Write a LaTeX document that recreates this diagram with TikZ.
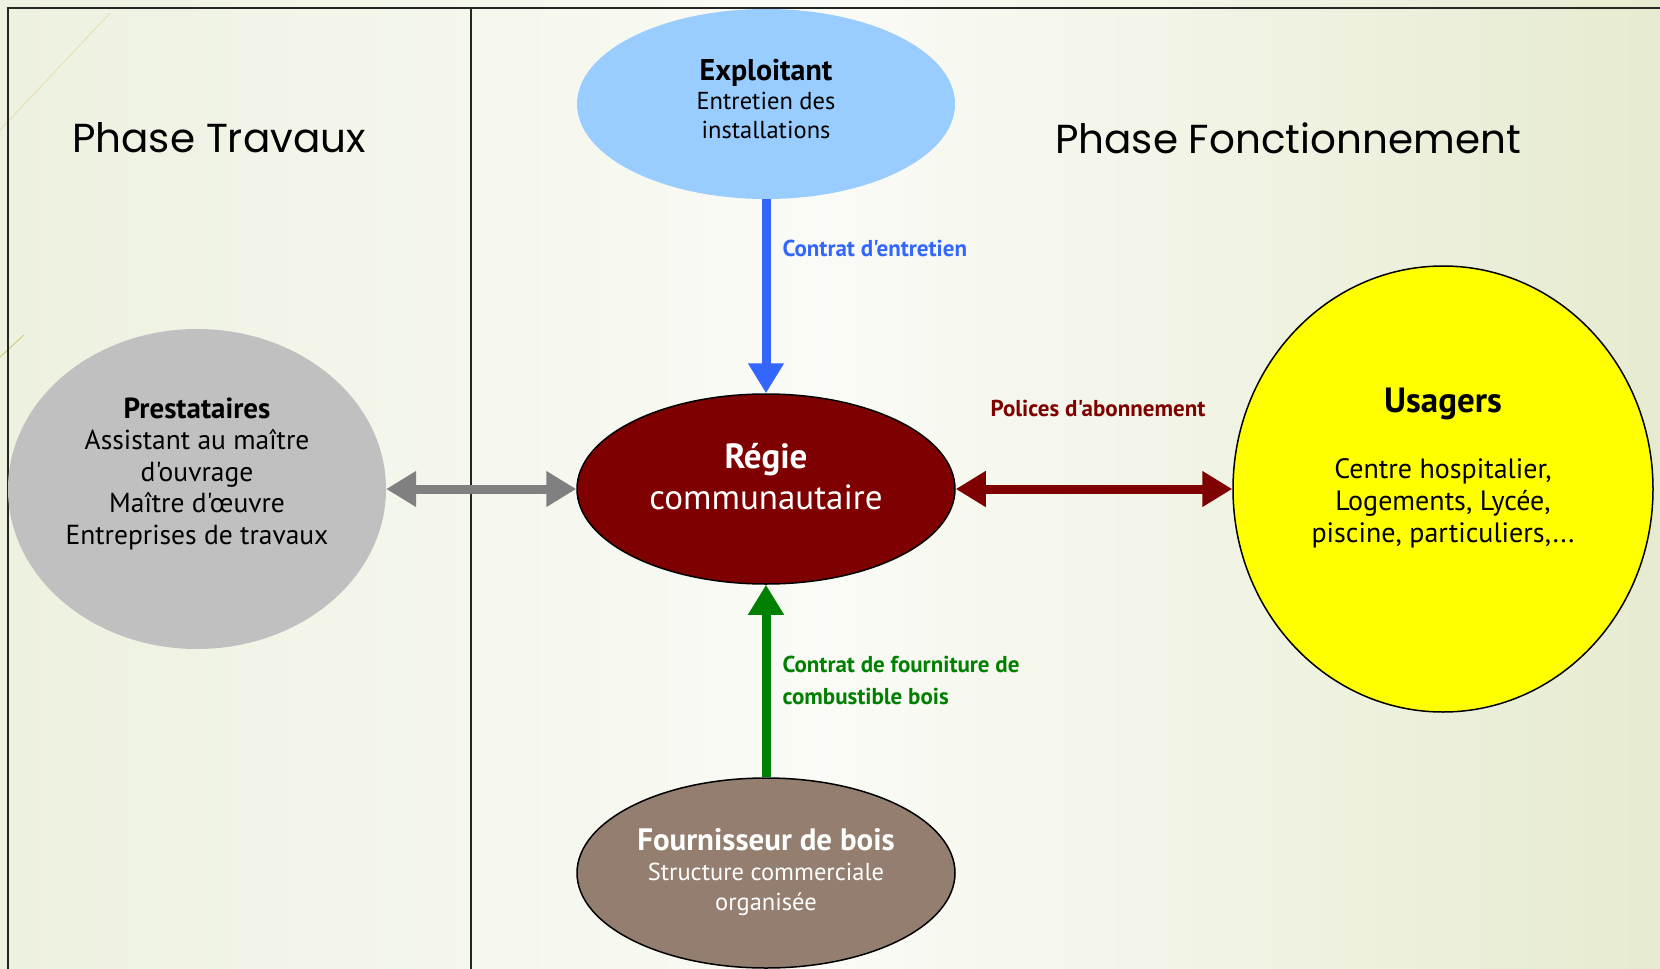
\documentclass[tikz,border=0pt]{standalone}
\usepackage{fontspec}
\setmainfont{PT Sans}[Ligatures=TeXOff]
\newfontfamily\titrefont{Poppins}
\usetikzlibrary{shapes.geometric,arrows.meta,positioning}

\definecolor{fondg}{HTML}{EDF1DF}
\definecolor{fondm}{HTML}{FAFBF6}
\definecolor{fondd}{HTML}{E6EBD0}
\definecolor{bleu}{HTML}{3366FF}
\definecolor{ciel}{HTML}{99CCFF}
\definecolor{rouge}{HTML}{7F0000}
\definecolor{vert}{HTML}{008000}
\definecolor{gris}{HTML}{808080}
\definecolor{argent}{HTML}{C0C0C0}
\definecolor{bois}{HTML}{937E6F}
\definecolor{jaune}{HTML}{FFFF00}
\definecolor{trait}{HTML}{262626}

\tikzset{
  bulle/.style={ellipse, inner sep=0pt, minimum width=378pt, minimum height=190pt, align=center},
  titre/.style={font=\titrefont\fontsize{40.5}{50}\selectfont},
  etiquette/.style={font=\fontsize{23}{32}\selectfont\bfseries, align=left},
  pointe/.tip={Triangle[length=30pt,width=34pt]},
  fleche/.style={line width=9pt, -pointe},
  doublefleche/.style={line width=9pt, pointe-pointe},
}

\begin{document}
\begin{tikzpicture}[x=1pt,y=-1pt]

\useasboundingbox (0,0) rectangle (1660,969);
\shade[left color=fondg, right color=fondd, middle color=fondm] (0,0) rectangle (1660,969);
\draw[olive!25, line width=0.8pt] (0,130) -- (110,13);
\draw[olive!45, line width=0.8pt] (0,357) -- (24,335);

\draw[trait, line width=2.5pt] (1660,8) -- (8,8) -- (8,969);
\draw[trait, line width=2pt] (471,8) -- (471,969);

\node[titre] (travaux) at (219,138) {Phase Travaux};
\node[titre] (fonct) at (1288,138) {Phase Fonctionnement};

\node[bulle, fill=rouge, draw=black, line width=1.5pt, text=white,
      font=\fontsize{35}{41}\selectfont] (regie) at (766,489)
      {\textbf{Régie}\\communautaire\\[-15pt]\mbox{}};
\node[bulle, fill=ciel, above of=regie, node distance=385pt,
      font=\fontsize{24.5}{29}\selectfont] (exploitant)
      {{\fontsize{30}{34}\selectfont\bfseries Exploitant}\\Entretien des\\installations\\[-18pt]\mbox{}};
\node[bulle, fill=bois, draw=black, line width=1.5pt, text=white, below of=regie, node distance=384pt,
      font=\fontsize{24.5}{30}\selectfont] (fournisseur)
      {{\fontsize{31}{34}\selectfont\bfseries Fournisseur de bois}\\Structure commerciale\\organisée\\[-22pt]\mbox{}};
\node[bulle, fill=argent, minimum height=320pt, left of=regie, node distance=569pt,
      font=\fontsize{27.5}{31.5}\selectfont] (prestataires)
      {{\fontsize{29}{31.5}\selectfont\bfseries Prestataires}\\Assistant au maître\\d'ouvrage\\Maître d'œuvre\\Entreprises de travaux\\[5pt]\mbox{}};
\node[bulle, fill=jaune, draw=black, line width=1.5pt, minimum width=420pt, minimum height=446pt,
      right of=regie, node distance=677pt,
      font=\fontsize{28}{32}\selectfont] (usagers)
      {{\fontsize{35}{38}\selectfont\bfseries Usagers}\\[34pt]Centre hospitalier,\\Logements, Lycée,\\piscine, particuliers,...\\[16pt]\mbox{}};

\node[etiquette, text=bleu, anchor=west] (contrat1) at (779,248) {Contrat d'entretien};
\node[etiquette, text=rouge] (polices) at (1098,408) {Polices d'abonnement};
\node[etiquette, text=vert, anchor=west] (contrat2) at (779,680) {Contrat de fourniture de\\combustible bois};

\foreach \s/\d/\c in {exploitant/regie/bleu, fournisseur/regie/vert}
  \draw[fleche, \c] (\s) -- (\d);
\foreach \s/\d/\c in {prestataires/regie/gris, regie/usagers/rouge}
  \draw[doublefleche, \c] (\s.east) -- (\d.west);

\end{tikzpicture}
\end{document}
